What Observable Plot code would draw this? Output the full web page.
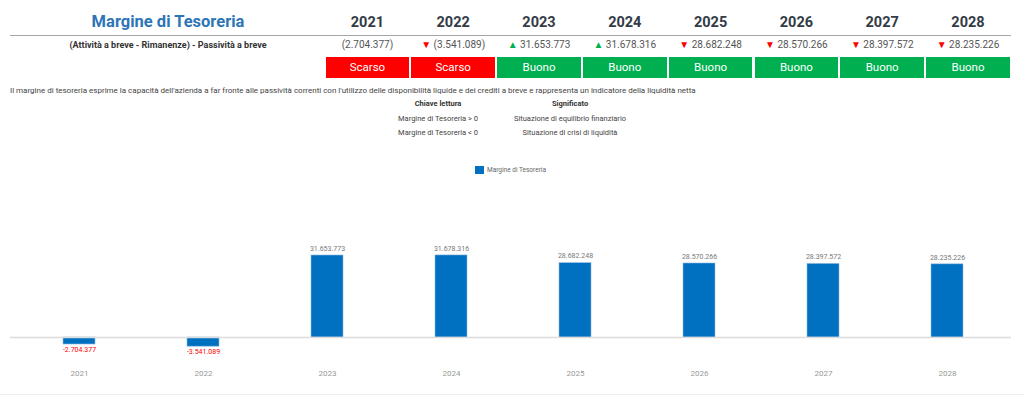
<!DOCTYPE html>
<html><head><meta charset="utf-8">
<script src="https://cdn.jsdelivr.net/npm/d3@7"></script>
<script src="https://cdn.jsdelivr.net/npm/@observablehq/plot@0.6"></script>
<style>
html,body{margin:0;padding:0;background:#fff;font-family:Roboto,"Noto Sans",sans-serif;}
#root{position:relative;width:1024px;height:396px;overflow:hidden;}
.abs{position:absolute;white-space:nowrap;}
</style></head>
<body><div id="root"></div>
<script>
const years = ["2021","2022","2023","2024","2025","2026","2027","2028"];
const values = [-2704377,-3541089,31653773,31678316,28682248,28570266,28397572,28235226];
const statuses = ["Scarso","Scarso","Buono","Buono","Buono","Buono","Buono","Buono"];
const title = "Margine di Tesoreria";
const rowLabel = "(Attività a breve - Rimanenze) - Passività a breve";
const description = "Il margine di tesoreria esprime la capacità dell'azienda a far fronte alle passività correnti con l'utilizzo delle disponibilità liquide e dei crediti a breve e rappresenta un indicatore della liquidità netta";
const keyHeaders = ["Chiave lettura","Significato"];
const keyRows = [["Margine di Tesoreria > 0","Situazione di equilibrio finanziario"],["Margine di Tesoreria < 0","Situazione di crisi di liquidità"]];
const seriesName = "Margine di Tesoreria";

const it = d3.formatLocale({decimal:",",thousands:".",grouping:[3],currency:["€",""],minus:"-"});
const fmt = it.format(",d");
const root = document.getElementById("root");
function el(html, style){const d=document.createElement("div");d.className="abs";d.innerHTML=html;Object.assign(d.style,style);root.appendChild(d);return d;}

// header
el(title,{left:"168px",top:"12px",fontSize:"16.5px",fontWeight:"700",color:"#2e75b6",transform:"translateX(-50%)"});
const colStart=325.5, colStep=85.8;
years.forEach((y,i)=>{
  const cx=colStart+colStep*i+colStep/2-1;
  el(y,{left:cx+"px",top:"14px",fontSize:"14.5px",fontWeight:"700",color:"#333b47",transform:"translateX(-50%)"});
  const v=values[i];
  let arrow="";
  if(i>0){arrow = v>values[i-1]?'<span style="color:#00b050;font-size:10px">▲</span> ':'<span style="color:#ff0000;font-size:10px">▼</span> ';}
  const txt = v<0?"("+fmt(-v)+")":fmt(v);
  el(arrow+txt,{left:cx+"px",top:"39px",fontSize:"10px",color:"#555",transform:"translateX(-50%)"});
  const good=statuses[i]==="Buono";
  el(statuses[i],{left:(colStart+colStep*i)+"px",top:"57px",width:(colStep-2)+"px",height:"21px",lineHeight:"21px",textAlign:"center",background:good?"#00b050":"#ff0000",color:"#fff",fontSize:"11.5px"});
});
el("",{left:"10px",top:"35px",width:"1001px",height:"0",borderTop:"1.5px solid #a6a6a6"});
el(rowLabel,{left:"168px",top:"40px",fontSize:"9px",fontWeight:"700",color:"#333",transform:"translateX(-50%)"});
el(description,{left:"10px",top:"86px",fontSize:"8px",color:"#444"});
el(keyHeaders[0],{left:"438px",top:"99px",fontSize:"7.5px",fontWeight:"700",color:"#333",transform:"translateX(-50%)"});
el(keyHeaders[1],{left:"570px",top:"99px",fontSize:"7.5px",fontWeight:"700",color:"#333",transform:"translateX(-50%)"});
keyRows.forEach((r,j)=>{
  el(r[0],{left:"438px",top:(114+14*j)+"px",fontSize:"7.5px",color:"#444",transform:"translateX(-50%)"});
  el(r[1],{left:"570px",top:(114+14*j)+"px",fontSize:"7.5px",color:"#444",transform:"translateX(-50%)"});
});
// legend
el('<span style="display:inline-block;width:9px;height:8px;background:#0070c0;vertical-align:middle;margin-right:3px"></span><span style="vertical-align:middle">'+seriesName+'</span>',{left:"475px",top:"166px",fontSize:"6.5px",color:"#666"});
el("",{left:"0px",top:"394px",width:"1024px",height:"0",borderTop:"1px solid #eee"});

const data = years.map((y,i)=>({year:y,value:values[i]}));
const chart = Plot.plot({
  width:1024,height:216,marginLeft:10,marginRight:13,marginTop:0,marginBottom:26,
  style:{fontFamily:"Roboto, sans-serif",background:"transparent"},
  x:{domain:years,range:[17,1009],paddingInner:0.742,paddingOuter:0.371,axis:null},
  y:{domain:[0,31653773],range:[157,75],axis:null},
  marks:[
    Plot.barY(data,{x:"year",y:"value",fill:"#0070c0",stroke:"#8fb8e0",strokeWidth:0.6}),
    Plot.ruleY([0],{stroke:"#dcdcdc",strokeWidth:1.5}),
    Plot.text(data.filter(d=>d.value>=0),{x:"year",y:"value",text:d=>fmt(d.value),dy:-7,fill:"#777",fontSize:7}),
    Plot.text(data.filter(d=>d.value<0),{x:"year",y:"value",text:d=>fmt(d.value),dy:5,fill:"#ff0000",fontSize:7}),
    Plot.axisX({tickSize:0,tickPadding:0,fontSize:8,color:"#999",label:null})
  ]
});
chart.style.position="absolute";chart.style.left="0px";chart.style.top="180px";
root.appendChild(chart);
</script></body></html>
